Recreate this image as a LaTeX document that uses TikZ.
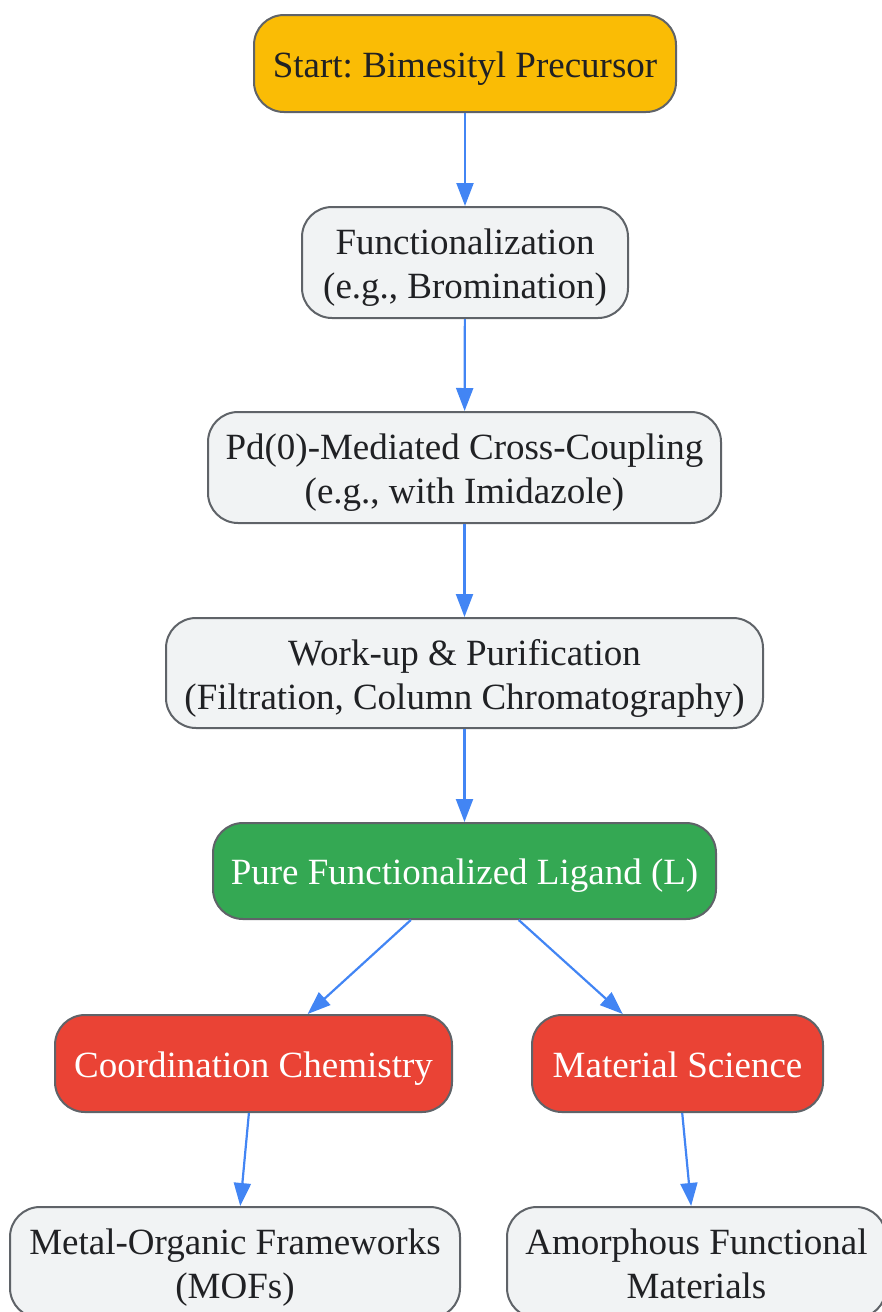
\documentclass[tikz,border=0pt]{standalone}
\usepackage{fontspec}
\setmainfont{Liberation Serif}
\usetikzlibrary{arrows.meta}
\frenchspacing
\definecolor{cyellow}{HTML}{FABC05}
\definecolor{cgray}{HTML}{F1F3F4}
\definecolor{cgreen}{HTML}{34A853}
\definecolor{cred}{HTML}{EA4335}
\definecolor{cborder}{HTML}{5F6368}
\definecolor{carrow}{HTML}{4285F4}
\definecolor{ctext}{HTML}{202124}
\newcommand\onel[1]{\rule{0pt}{27pt}\raisebox{0pt}[\height][0pt]{#1}}
\newcommand\twol[2]{\rule{0pt}{28pt}#1\\\raisebox{0pt}[\height][0pt]{#2}}
\tikzset{
  box/.style={draw=cborder, line width=2pt, rounded corners=30pt, inner sep=0pt,
    align=center, text=ctext, font=\fontsize{37}{44}\selectfont},
  graybox/.style={box, fill=cgray},
  flow/.style={draw=carrow, line width=2.2pt, -{Triangle[length=23pt,width=17pt]}}
}
\begin{document}
\begin{tikzpicture}[x=1pt,y=1pt]
\useasboundingbox (0,0) rectangle (882,-1312);
\node[box, fill=cyellow, minimum width=422pt, minimum height=97pt] (start) at (465,-63.5) {\onel{Start: Bimesityl Precursor}};
\node[graybox, minimum width=326pt, minimum height=111pt] (func) at (465,-262.5) {\twol{Functionalization}{(e.g., Bromination)}};
\node[graybox, minimum width=513pt, minimum height=111pt] (pd) at (464.5,-467.5) {\twol{Pd(0)-Mediated Cross-Coupling}{(e.g., with Imidazole)}};
\node[graybox, minimum width=597pt, minimum height=110pt] (work) at (464.5,-673) {\twol{Work-up \& Purification}{(Filtration, Column Chromatography)}};
\node[box, fill=cgreen, text=white, minimum width=503pt, minimum height=96pt] (pure) at (464.5,-871) {\onel{Pure Functionalized Ligand (L)}};
\node[box, fill=cred, text=white, minimum width=397pt, minimum height=97pt] (coord) at (253.5,-1063.5) {\onel{Coordination Chemistry}};
\node[box, fill=cred, text=white, minimum width=291pt, minimum height=97pt] (mat) at (677.5,-1063.5) {\onel{Material Science}};
\node[graybox, minimum width=450pt, minimum height=111pt] (mof) at (235,-1262.5) {\twol{Metal-Organic Frameworks}{(MOFs)}};
\node[graybox, minimum width=379pt, minimum height=111pt] (amo) at (696.5,-1262.5) {\twol{Amorphous Functional}{Materials}};
\draw[flow] (start) -- (func);
\draw[flow] (func) -- (pd);
\draw[flow] (pd) -- (work);
\draw[flow] (work) -- (pure);
\draw[flow] (pure) -- (coord);
\draw[flow] (pure) -- (mat);
\draw[flow] (coord) -- (mof);
\draw[flow] (mat) -- (amo);
\end{tikzpicture}
\end{document}
